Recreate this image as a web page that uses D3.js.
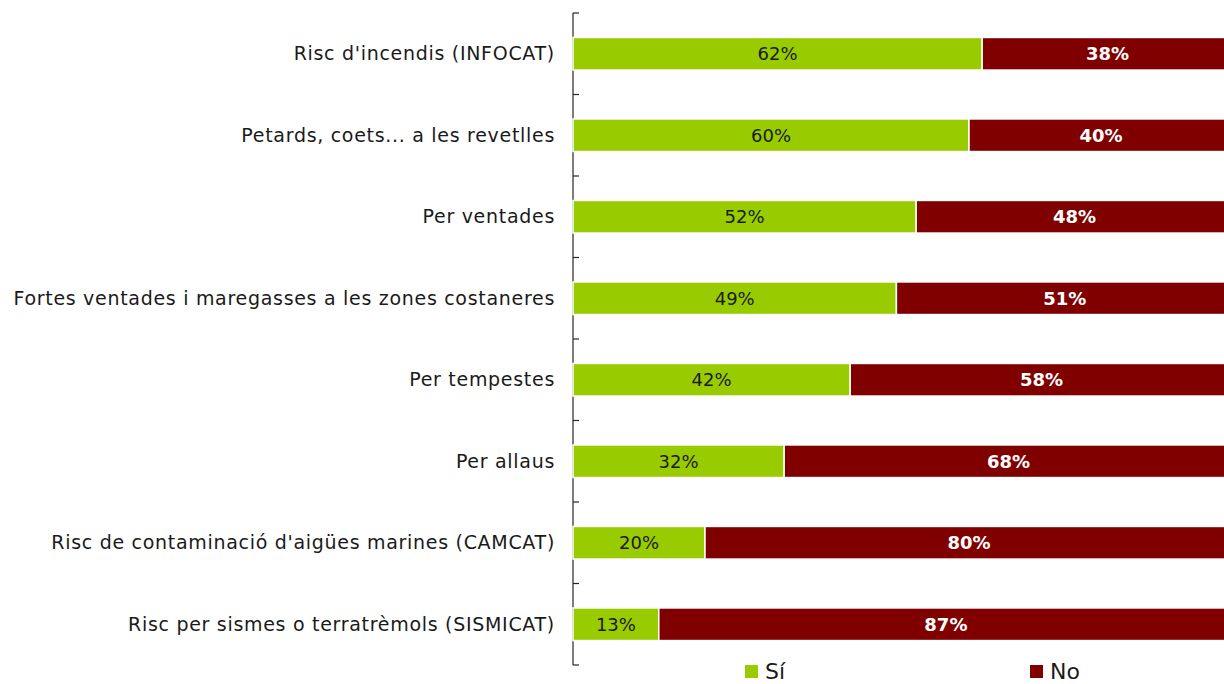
<!DOCTYPE html>
<html>
<head>
<meta charset="utf-8">
<script src="https://cdn.jsdelivr.net/npm/d3@7"></script>
<style>
  body { margin: 0; background: #fff; overflow: hidden; }
  svg { display: block; font-family: "DejaVu Sans", sans-serif; }
</style>
</head>
<body>
<svg id="svg" width="1224" height="684"></svg>
<script>
var categories = [
    "Risc d'incendis (INFOCAT)",
    "Petards, coets... a les revetlles",
    "Per ventades",
    "Fortes ventades i maregasses a les zones costaneres",
    "Per tempestes",
    "Per allaus",
    "Risc de contaminació d'aigües marines (CAMCAT)",
    "Risc per sismes o terratrèmols (SISMICAT)"
];
var siValues = [62, 60, 52, 49, 42, 32, 20, 13];
var noValues = [38, 40, 48, 51, 58, 68, 80, 87];
var seriesNames = ["Sí", "No"];
var seriesColors = ["#99cc00", "#800000"];

var svg = d3.select("#svg");

var plot = {left: 573, top: 13, bottom: 665, width: 660};

var rows = categories.map(function (c, i) {
    return {cat: c, si: siValues[i], no: noValues[i]};
});

var xScale = d3.scaleLinear().domain([0, 100]).range([plot.left, plot.left + plot.width]);

var yScale = d3.scaleBand()
    .domain(categories)
    .range([plot.top, plot.bottom])
    .paddingInner(0.6)
    .paddingOuter(0.3);

// boundary ticks between categories
var edgeScale = d3.scaleLinear().domain([0, categories.length]).range([plot.top, plot.bottom]);

var axis = svg.append("g").attr("class", "yAxis");
axis.append("line")
    .attr("x1", plot.left).attr("x2", plot.left)
    .attr("y1", plot.top).attr("y2", plot.bottom)
    .attr("stroke", "#262626").attr("stroke-width", 1.2);
axis.selectAll("line.tick").data(d3.range(categories.length + 1)).enter()
    .append("line")
    .attr("class", "tick")
    .attr("x1", plot.left).attr("x2", plot.left + 6)
    .attr("y1", function (d) { return edgeScale(d); })
    .attr("y2", function (d) { return edgeScale(d); })
    .attr("stroke", "#262626").attr("stroke-width", 1.2);

axis.selectAll("text").data(categories).enter()
    .append("text")
    .attr("x", plot.left - 18)
    .attr("y", function (d) { return yScale(d) + yScale.bandwidth() / 2; })
    .attr("dy", "0.35em")
    .attr("text-anchor", "end")
    .attr("font-size", 19)
    .attr("letter-spacing", 0.7)
    .attr("fill", "#1a1a1a")
    .text(function (d) { return d; });

// bars
var barGrp = svg.append("g");
barGrp.selectAll("rect.si").data(rows).enter()
    .append("rect")
    .attr("class", "si")
    .attr("x", xScale(0))
    .attr("y", function (d) { return yScale(d.cat); })
    .attr("width", function (d) { return xScale(d.si) - xScale(0); })
    .attr("height", yScale.bandwidth())
    .attr("fill", seriesColors[0])
    .attr("stroke", "#fff").attr("stroke-width", 1.5);

barGrp.selectAll("rect.no").data(rows).enter()
    .append("rect")
    .attr("class", "no")
    .attr("x", function (d) { return xScale(d.si); })
    .attr("y", function (d) { return yScale(d.cat); })
    .attr("width", function (d) { return xScale(d.si + d.no) - xScale(d.si); })
    .attr("height", yScale.bandwidth())
    .attr("fill", seriesColors[1])
    .attr("stroke", "#fff").attr("stroke-width", 1.5);

// value labels
barGrp.selectAll("text.si").data(rows).enter()
    .append("text")
    .attr("class", "si")
    .attr("x", function (d) { return (xScale(0) + xScale(d.si)) / 2; })
    .attr("y", function (d) { return yScale(d.cat) + yScale.bandwidth() / 2; })
    .attr("dy", "0.36em")
    .attr("text-anchor", "middle")
    .attr("font-size", 18)
    .attr("fill", "#1a1a1a")
    .text(function (d) { return d.si + "%"; });

barGrp.selectAll("text.no").data(rows).enter()
    .append("text")
    .attr("class", "no")
    .attr("x", function (d) { return (xScale(d.si) + xScale(d.si + d.no)) / 2; })
    .attr("y", function (d) { return yScale(d.cat) + yScale.bandwidth() / 2; })
    .attr("dy", "0.36em")
    .attr("text-anchor", "middle")
    .attr("font-size", 18)
    .attr("font-weight", "bold")
    .attr("fill", "#fff")
    .text(function (d) { return d.no + "%"; });

// legend
var legendX = [745, 1030];
var legend = svg.append("g").selectAll("g").data(seriesNames).enter()
    .append("g")
    .attr("transform", function (d, i) { return "translate(" + legendX[i] + ",665)"; });
legend.append("rect")
    .attr("width", 13).attr("height", 13)
    .attr("fill", function (d, i) { return seriesColors[i]; });
legend.append("text")
    .attr("x", 20).attr("y", 14)
    .attr("font-size", 22)
    .attr("fill", "#1a1a1a")
    .text(function (d) { return d; });
</script>
</body>
</html>
